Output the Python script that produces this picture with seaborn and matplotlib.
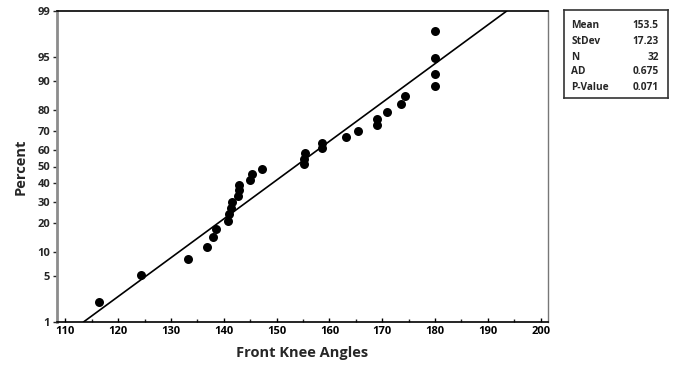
import matplotlib
matplotlib.use("Agg")
import matplotlib.pyplot as plt
import seaborn as sns
import numpy as np
import pandas as pd
from statistics import NormalDist

# ---- data ----
angles = [116.3, 124.3, 133.3, 136.9, 138.0, 138.6, 140.8, 141.0, 141.3, 141.5,
          142.6, 142.8, 142.8, 144.9, 145.3, 147.3, 155.2, 155.2, 155.4, 158.5,
          158.5, 163.1, 165.4, 169.0, 169.0, 170.9, 173.6, 174.3, 180.0, 180.0,
          180.0, 180.0]
percents = [2.16, 5.25, 8.33, 11.42, 14.51, 17.59, 20.68, 23.77, 26.85, 29.94,
            33.02, 36.11, 39.20, 42.28, 45.37, 48.46, 51.54, 54.63, 57.72, 60.80,
            63.89, 66.98, 70.06, 73.15, 76.23, 79.32, 82.41, 85.49, 88.58, 91.67,
            94.75, 97.84]
stat_names = ["Mean", "StDev", "N", "AD", "P-Value"]
stat_values = ["153.5", "17.23", "32", "0.675", "0.071"]
fit_mean = 153.5
fit_sd = 17.23
y_ticks = [1, 5, 10, 20, 30, 40, 50, 60, 70, 80, 90, 95, 99]
x_ticks = [110, 120, 130, 140, 150, 160, 170, 180, 190, 200]

nd = NormalDist()
def z(p):
    return nd.inv_cdf(p / 100.0)

sns.set_theme(style="white")
plt.rcParams['font.family'] = ['Open Sans', 'DejaVu Sans']

fig = plt.figure(figsize=(6.73, 3.73), dpi=100)
ax = fig.add_axes([57/673, 1-322/373, (548-57)/673, (322-11)/373])

df = pd.DataFrame({"angle": angles, "z": [z(p) for p in percents]})
zlo, zhi = z(1), z(99)
line_df = pd.DataFrame({"z": [zlo, zhi]})
line_df["angle"] = fit_mean + fit_sd * line_df["z"]

sns.lineplot(data=line_df, x="angle", y="z", color="black", lw=1.2, ax=ax, sort=False)
sns.scatterplot(data=df, x="angle", y="z", color="black", s=42, edgecolor="black",
                linewidth=0, ax=ax, zorder=3)

ax.set_xlim(108.4, 201.4)
ax.set_ylim(zlo, zhi)
ax.set_yticks([z(t) for t in y_ticks])
ax.set_yticklabels([str(t) for t in y_ticks], fontsize=8, fontweight="bold")
ax.set_xticks(x_ticks)
ax.set_xticklabels([str(t) for t in x_ticks], fontsize=8, fontweight="bold")
ax.set_xticks([t + 5 for t in x_ticks[:-1]], minor=True)
ax.tick_params(axis="x", which="major", direction="in", length=3, width=1, pad=3, colors="black")
ax.tick_params(axis="x", which="minor", direction="in", length=2, width=1, bottom=True)
ax.tick_params(axis="y", which="major", direction="out", length=3, width=1, pad=2, left=True)
ax.tick_params(axis="x", bottom=True)
ax.set_xlabel("Front Knee Angles", fontsize=10.5, fontweight="bold", labelpad=6)
ax.set_ylabel("Percent", fontsize=10.5, fontweight="bold", labelpad=7)

for s in ["top", "bottom"]:
    ax.spines[s].set_color("black")
    ax.spines[s].set_linewidth(1.2)
ax.spines["left"].set_color("#8c8c8c")
ax.spines["left"].set_linewidth(2.0)
ax.spines["right"].set_color("#777777")
ax.spines["right"].set_linewidth(1.0)

# stats box
bx = fig.add_axes([564/673, 1-98/373, (668-564)/673, (98-10)/373])
bx.set_xlim(0, 1)
bx.set_ylim(0, 1)
bx.set_xticks([])
bx.set_yticks([])
for s in bx.spines.values():
    s.set_color("#333333")
    s.set_linewidth(1.2)
rows_y = [(98-25)/88, (98-42)/88, (98-57)/88, (98-72)/88, (98-88)/88]
for name, val, yy in zip(stat_names, stat_values, rows_y):
    bx.text(0.07, yy, name, fontsize=7.3, fontweight="bold", va="center", ha="left")
    bx.text(0.91, yy, val, fontsize=7.3, fontweight="bold", va="center", ha="right")

fig.savefig("out.png", dpi=100)
